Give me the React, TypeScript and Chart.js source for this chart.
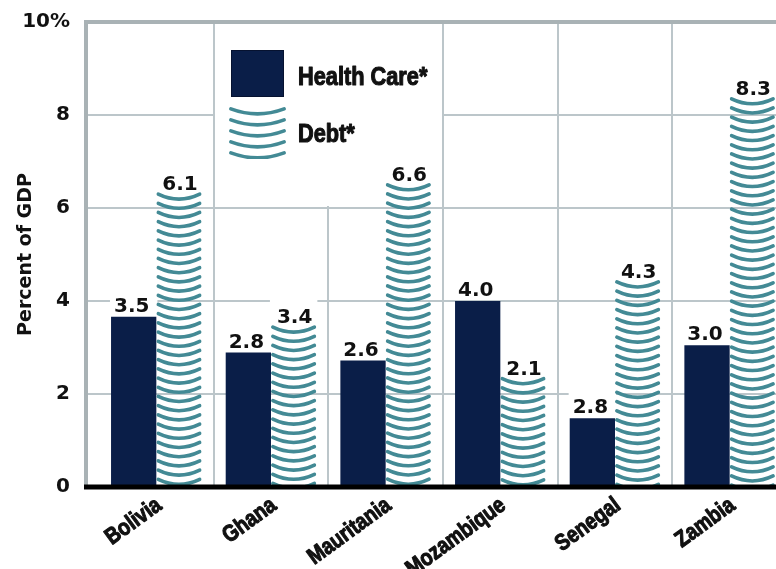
import React, { useEffect, useRef } from 'react';
import { Chart, registerables } from 'chart.js';

Chart.register(...registerables);

// ---- data ----
const countries = ['Bolivia', 'Ghana', 'Mauritania', 'Mozambique', 'Senegal', 'Zambia'];
// bar heights as drawn in the picture (percent of GDP)
const healthValues = [3.66, 2.89, 2.72, 4.0, 1.48, 3.05];
const debtValues = [6.34, 3.48, 6.54, 2.37, 4.45, 8.39];
// value labels printed above the bars
const healthLabels = ['3.5', '2.8', '2.6', '4.0', '2.8', '3.0'];
const debtLabels = ['6.1', '3.4', '6.6', '2.1', '4.3', '8.3'];
const yTicks = [0, 2, 4, 6, 8, 10];
const seriesNames = ['Health Care*', 'Debt*'];

// ---- styles ----
const NAVY = '#0a1e48';
const TEAL = '#438a95';
const GRID = '#bcc6ca';
const BORDER = '#a9b2b5';
const INK = '#111111';
const NUM_FONT = 'bold 20px "DejaVu Sans", sans-serif';
const LABEL_FONT = '"Liberation Sans", Arial, sans-serif';

function drawArcs(ctx: CanvasRenderingContext2D, left: number, right: number, top: number, bottom: number, step: number) {
  ctx.save();
  ctx.beginPath();
  ctx.rect(left, top - 1, right - left, bottom - top + 1);
  ctx.clip();
  ctx.strokeStyle = TEAL;
  ctx.lineWidth = 3.6;
  ctx.lineCap = 'round';
  const cx = (left + right) / 2;
  for (let yy = top + 1.9; yy < bottom + 6; yy += step) {
    ctx.beginPath();
    ctx.moveTo(left + 1.9, yy);
    ctx.quadraticCurveTo(cx, yy + 10, right - 1.9, yy);
    ctx.stroke();
  }
  ctx.restore();
}

function condensed(ctx: CanvasRenderingContext2D, text: string, x: number, y: number, size: number, sx: number, align: CanvasTextAlign, rot = 0, baseline: CanvasTextBaseline = 'alphabetic') {
  ctx.save();
  ctx.translate(x, y);
  if (rot) ctx.rotate(rot);
  ctx.scale(sx, 1);
  ctx.font = `bold ${size}px ${LABEL_FONT}`;
  ctx.textAlign = align;
  ctx.textBaseline = baseline;
  ctx.fillStyle = INK;
  ctx.strokeStyle = INK;
  ctx.lineWidth = 1.1;
  ctx.lineJoin = 'round';
  ctx.fillText(text, 0, 0);
  ctx.strokeText(text, 0, 0);
  ctx.restore();
}

const decorPlugin = {
  id: 'decor',
  beforeDatasetsDraw(chart: any) {
    const { ctx, chartArea } = chart;
    const xs = chart.scales.x;
    const ys = chart.scales.y;
    const frameLeft = chartArea.left - 15;
    const right = chart.width;
    ctx.save();
    // horizontal grid
    ctx.strokeStyle = GRID;
    ctx.lineWidth = 2;
    yTicks.forEach((v) => {
      if (v === 0 || v === 10) return;
      const py = Math.round(ys.getPixelForValue(v));
      ctx.beginPath();
      ctx.moveTo(frameLeft, py);
      ctx.lineTo(right, py);
      ctx.stroke();
    });
    // vertical separators between categories
    const bounds: number[] = [];
    for (let i = 0; i < countries.length - 1; i++) {
      bounds.push(Math.round((xs.getPixelForTick(i) + xs.getPixelForTick(i + 1)) / 2));
    }
    bounds.forEach((bx) => {
      ctx.beginPath();
      ctx.moveTo(bx, chartArea.top);
      ctx.lineTo(bx, chartArea.bottom);
      ctx.stroke();
    });
    // frame top & left
    ctx.strokeStyle = BORDER;
    ctx.lineWidth = 4;
    const topY = ys.getPixelForValue(10);
    ctx.beginPath();
    ctx.moveTo(frameLeft, topY);
    ctx.lineTo(right, topY);
    ctx.moveTo(frameLeft + 2, topY - 2);
    ctx.lineTo(frameLeft + 2, chartArea.bottom);
    ctx.stroke();

    // legend panel
    const lx0 = bounds[0] + 1;
    const lx1 = bounds[2] - 1;
    const ly1 = ys.getPixelForValue(6) - 2;
    ctx.fillStyle = '#ffffff';
    ctx.fillRect(lx0, topY + 2, lx1 - lx0, ly1 - topY - 2);
    const sqL = bounds[0] + 17;
    ctx.fillStyle = NAVY;
    ctx.fillRect(sqL, topY + 28, 53, 47);
    ctx.strokeStyle = '#061230';
    ctx.lineWidth = 1;
    ctx.strokeRect(sqL + 0.5, topY + 28.5, 52, 46);
    drawArcs(ctx, sqL - 2, sqL + 55, topY + 85, topY + 137, 11);
    condensed(ctx, seriesNames[0], sqL + 67, topY + 63, 25, 0.87, 'left');
    condensed(ctx, seriesNames[1], sqL + 67, topY + 120, 25, 0.87, 'left');

    // white backgrounds behind value labels
    ctx.font = NUM_FONT;
    const boxes = (dsIndex: number, labels: string[], gap: number) => {
      const meta = chart.getDatasetMeta(dsIndex);
      meta.data.forEach((el: any, i: number) => {
        const w = ctx.measureText(labels[i]).width;
        const base = el.y - gap;
        ctx.fillStyle = '#ffffff';
        ctx.fillRect(el.x - w / 2 - 6, base - 26, w + 12, 26 + gap - 1);
      });
    };
    boxes(0, healthLabels, 5);
    boxes(1, debtLabels, 2);
    ctx.restore();
  },
  afterDatasetsDraw(chart: any) {
    const { ctx, chartArea } = chart;
    const xs = chart.scales.x;
    const frameLeft = chartArea.left - 15;
    ctx.save();
    // debt bars pattern
    const debtMeta = chart.getDatasetMeta(1);
    debtMeta.data.forEach((el: any) => {
      const p = el.getProps(['x', 'y', 'base', 'width'], true);
      drawArcs(ctx, p.x - p.width / 2, p.x + p.width / 2, p.y, p.base, 9.2);
    });
    // value labels
    ctx.font = NUM_FONT;
    ctx.fillStyle = INK;
    ctx.textAlign = 'center';
    ctx.textBaseline = 'alphabetic';
    chart.getDatasetMeta(0).data.forEach((el: any, i: number) => {
      ctx.fillText(healthLabels[i], el.x - 2, el.y - 5);
    });
    debtMeta.data.forEach((el: any, i: number) => {
      ctx.fillText(debtLabels[i], el.x + 1, el.y - 2);
    });
    // base axis
    ctx.strokeStyle = '#000000';
    ctx.lineWidth = 5;
    ctx.beginPath();
    ctx.moveTo(frameLeft, chartArea.bottom);
    ctx.lineTo(chart.width, chartArea.bottom);
    ctx.stroke();
    // category labels
    countries.forEach((c, i) => {
      const px = xs.getPixelForTick(i);
      condensed(ctx, c, px + 3, chartArea.bottom + 16, 23, 0.84, 'right', -36 * Math.PI / 180, 'middle');
    });
    ctx.restore();
  },
};

export default function App() {
  const ref = useRef<HTMLCanvasElement>(null);
  useEffect(() => {
    const canvas = ref.current;
    if (!canvas) return;
    const chart = new Chart(canvas, {
      type: 'bar',
      data: {
        labels: countries,
        datasets: [
          {
            label: seriesNames[0],
            data: healthValues,
            backgroundColor: NAVY,
            borderWidth: 0,
            barPercentage: 1,
            categoryPercentage: 0.79,
          },
          {
            label: seriesNames[1],
            data: debtValues,
            backgroundColor: 'rgba(0,0,0,0)',
            borderWidth: 0,
            barPercentage: 1,
            categoryPercentage: 0.79,
          },
        ],
      },
      options: {
        responsive: false,
        animation: false,
        devicePixelRatio: 1,
        layout: { padding: { top: 22, left: 0, right: 0, bottom: 0 } },
        plugins: { legend: { display: false }, tooltip: { enabled: false } },
        scales: {
          x: {
            type: 'category',
            offset: true,
            grid: { display: false },
            border: { display: false },
            ticks: { display: false },
            afterFit: (s: any) => { s.height = 82; },
          },
          y: {
            min: 0,
            max: 10,
            grid: { display: false },
            border: { display: false },
            afterBuildTicks: (s: any) => { s.ticks = yTicks.map((v) => ({ value: v })); },
            ticks: {
              padding: 21,
              color: INK,
              font: { family: '"DejaVu Sans", sans-serif', weight: 'bold', size: 20 },
              callback: (v: any) => (Number(v) === 10 ? '10%' : String(v)),
            },
            title: {
              display: true,
              text: 'Percent of GDP',
              color: INK,
              font: { family: '"DejaVu Sans", sans-serif', weight: 'bold', size: 19 },
              padding: { top: 15, bottom: 0 },
            },
            afterFit: (s: any) => {
              s.width = 99;
              s.paddingTop = 0;
              s.paddingBottom = 0;
            },
          },
        },
      },
      plugins: [decorPlugin],
    } as any);
    return () => chart.destroy();
  }, []);
  return (
    <div style={{ position: 'absolute', left: 0, top: 0, width: 776, height: 569, overflow: 'hidden', background: '#ffffff' }}>
      <canvas ref={ref} width={787} height={569} style={{ display: 'block', width: 787, height: 569 }} />
    </div>
  );
}
